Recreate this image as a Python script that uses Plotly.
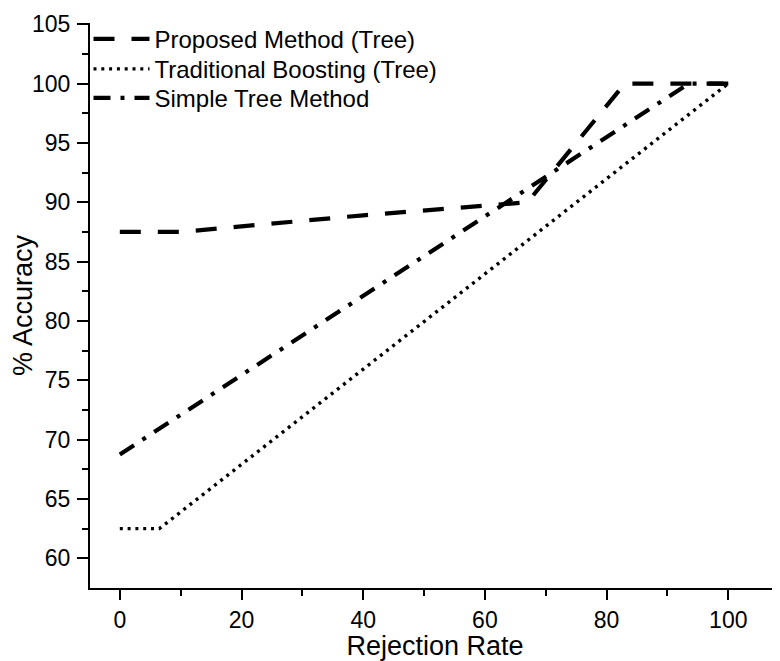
import plotly.graph_objects as go

# Data
proposed_x = [0, 10, 40, 60, 67, 83, 100]
proposed_y = [87.5, 87.5, 88.9, 89.7, 90.0, 100, 100]

traditional_x = [0, 6.5, 100]
traditional_y = [62.5, 62.5, 100]

simple_x = [0, 93.5, 100]
simple_y = [68.75, 100, 100]

x_ticks = [0, 20, 40, 60, 80, 100]
y_ticks = [60, 65, 70, 75, 80, 85, 90, 95, 100, 105]

FONT = "Liberation Sans, Arial, sans-serif"

# the page body has an 8px margin; compensate so the plot lands where it should
OFF = 8
W, H = 780 - OFF, 661 - OFF
L, T, B = 89.5 - OFF, 23 - OFF, H - (587.7 - OFF)

fig = go.Figure()
fig.add_trace(go.Scatter(x=proposed_x, y=proposed_y, mode="lines",
                         name="Proposed Method (Tree)", legend="legend",
                         line=dict(color="black", width=4.2, dash="21px,17px")))
fig.add_trace(go.Scatter(x=traditional_x, y=traditional_y, mode="lines",
                         name="Traditional Boosting (Tree)", legend="legend2",
                         line=dict(color="black", width=3.4, dash="3px,4.8px")))
fig.add_trace(go.Scatter(x=simple_x, y=simple_y, mode="lines",
                         name="Simple Tree Method", legend="legend3",
                         line=dict(color="black", width=4.2, dash="17px,10px,4px,10px")))

plot_h = H - T - B
plot_w = W - L


def ypaper(py):
    return (587.7 - py) / plot_h


leg_common = dict(xanchor="left", yanchor="middle", x=(88 - 89.5) / plot_w,
                  bgcolor="rgba(0,0,0,0)", font=dict(size=24, family=FONT),
                  itemwidth=56, borderwidth=0)

fig.update_layout(
    width=W, height=H,
    paper_bgcolor="white", plot_bgcolor="white",
    margin=dict(l=L, r=0, t=T, b=B, pad=0),
    font=dict(family=FONT, color="black"),
    showlegend=True,
    legend=dict(y=ypaper(39.3), **leg_common),
    legend2=dict(y=ypaper(69.3), **leg_common),
    legend3=dict(y=ypaper(98.3), **leg_common),
)
fig.update_xaxes(
    range=[-4.9, 108.5], tickvals=x_ticks, ticktext=[str(v) for v in x_ticks],
    showgrid=False, zeroline=False, showline=True, linecolor="black", linewidth=2,
    ticks="outside", ticklen=10, tickwidth=2, tickcolor="black",
    tickfont=dict(size=23, family=FONT),
    minor=dict(tickvals=[10, 30, 50, 70, 90], ticks="outside", ticklen=6, tickwidth=2, tickcolor="black"),
    title=dict(text="Rejection Rate", font=dict(size=27, family=FONT), standoff=0),
    automargin=False,
)
fig.update_yaxes(
    range=[57.5, 105.1], tickvals=y_ticks, ticktext=[str(v) for v in y_ticks],
    showgrid=False, zeroline=False, showline=True, linecolor="black", linewidth=2,
    ticks="outside", ticklen=11, tickwidth=2, tickcolor="black",
    tickfont=dict(size=23, family=FONT), ticklabelstandoff=2,
    minor=dict(tickvals=[62.5, 67.5, 72.5, 77.5, 82.5, 87.5, 92.5, 97.5, 102.5],
               ticks="outside", ticklen=6, tickwidth=2, tickcolor="black"),
    title=dict(text="% Accuracy", font=dict(size=27, family=FONT), standoff=0),
    automargin=False,
)

fig.write_html("out.html")
